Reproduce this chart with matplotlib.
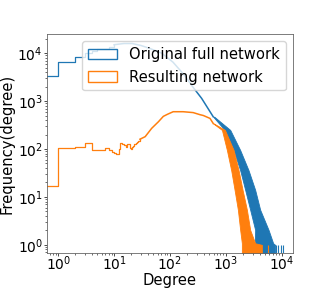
import numpy as np
import matplotlib
matplotlib.use("Agg")
import matplotlib.pyplot as plt
from matplotlib.patches import Patch

# Original full network: low degree steps, smooth middle, noisy tail band
full_step_deg = [0, 1, 2, 3, 4, 5, 6, 8, 10]
full_step_freq = [3300, 6600, 8300, 10000, 11000, 12000, 12500, 13500, 15000]
full_deg = [10, 15, 21, 30, 44, 71, 113, 180, 257, 368, 593]
full_freq = [15000, 15900, 15900, 14500, 12500, 10000, 6500, 3500, 1960, 1140, 471]
full_band_freq = [471, 250, 95, 36, 14, 5.4, 2.05, 1.08, 1.0, 0.5]
full_band_lo = [593, 948, 1372, 1800, 2213, 2717, 3337, 3300, 3700, 3700]
full_band_hi = [620, 1194, 1800, 2540, 3337, 4100, 5790, 7000, 7600, 7600]
full_sparse = [7800, 8500, 9560, 10400]

# Resulting network
res_step_deg = list(range(30))
res_step_freq = [17, 103, 111, 135, 95, 95, 95, 106, 95, 88, 81, 80, 100, 135, 125,
                 120, 110, 130, 125, 105, 100, 110, 115, 125, 130, 135, 140, 150, 148, 160]
res_deg = [29, 36, 47, 62, 76, 90, 114, 172, 260, 344, 395, 520, 594]
res_freq = [160, 181, 270, 370, 480, 530, 600, 600, 575, 520, 500, 435, 340]
res_band_freq = [340, 250, 95, 36, 14, 5.4, 2.05, 1.08, 1.0, 0.5]
res_band_lo = [594, 849, 1042, 1244, 1430, 1638, 1800, 1930, 1930, 1930]
res_band_hi = [610, 960, 1372, 1686, 1987, 2371, 2717, 3337, 4394, 4394]
res_sparse = [5600]

blue = "#1f77b4"
orange = "#ff7f0e"
fs = 10.6

fig = plt.figure(figsize=(3.14, 2.9), dpi=100)
ax = fig.add_axes([0.1497, 0.1276, 0.7834, 0.7552])
ax.set_xscale("log")
ax.set_yscale("log")

for sd, sf, d, f, bf, blo, bhi, sp, c in [
        (full_step_deg, full_step_freq, full_deg, full_freq, full_band_freq,
         full_band_lo, full_band_hi, full_sparse, blue),
        (res_step_deg, res_step_freq, res_deg, res_freq, res_band_freq,
         res_band_lo, res_band_hi, res_sparse, orange)]:
    ax.step(sd, sf, where="post", color=c, lw=0.9)
    ax.plot(d, f, color=c, lw=1.1)
    ax.fill_betweenx(bf, blo, bhi, color=c, lw=0.6, edgecolor=c)
    ax.vlines(sp, 0.3, 1.0, color=c, lw=0.8)

ax.set_xlim(10 ** -0.2, 10 ** 4.2)
ax.set_ylim(10 ** -0.17, 10 ** 4.4)
ax.set_xlabel("Degree", fontsize=fs, labelpad=0)
ax.set_ylabel("Frequency(degree)", fontsize=fs, labelpad=2)
ax.tick_params(labelsize=10, length=2, width=0.5, pad=1)
ax.tick_params(axis="x", pad=-1)
ax.tick_params(which="minor", length=1.2, width=0.4)
for s in ax.spines.values():
    s.set_linewidth(0.6)
    s.set_color("#666666")

handles = [Patch(facecolor="none", edgecolor=blue, lw=1.0),
           Patch(facecolor="none", edgecolor=orange, lw=1.0)]
ax.legend(handles, ["Original full network", "Resulting network"],
          loc="upper right", fontsize=fs)

fig.savefig("out.png", dpi=100)
